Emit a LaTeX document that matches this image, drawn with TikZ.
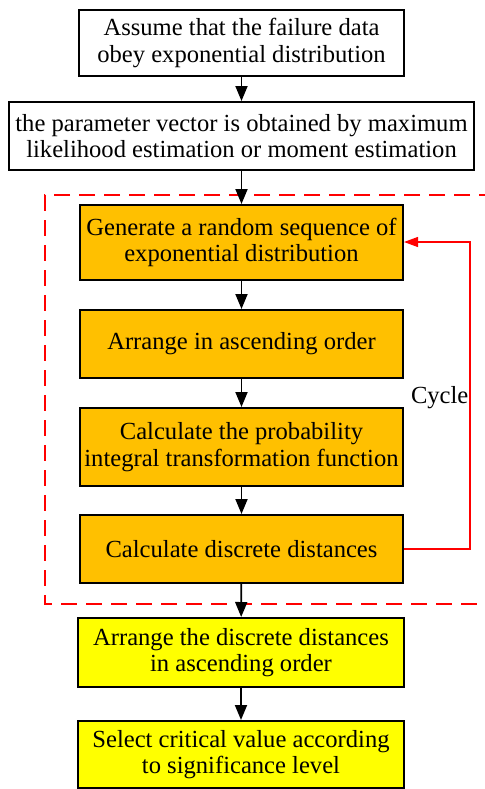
\documentclass[tikz,border=0pt]{standalone}
\usepackage{fontspec}
\setmainfont{Liberation Serif}
\usetikzlibrary{arrows.meta}

\definecolor{boxorange}{HTML}{FFC000}
\definecolor{boxyellow}{HTML}{FFFF00}

\tikzset{
  stepbox/.style={draw=black, line width=1pt, inner sep=0pt, align=center,
    font=\fontsize{12.3}{13.2}\selectfont},
  loopbox/.style={stepbox, fill=boxorange, minimum width=161.5pt},
  endbox/.style={stepbox, fill=boxyellow, minimum width=163pt},
  flow/.style={-{Triangle[length=7.5pt,width=6pt]}, line width=0.9pt},
}

\begin{document}
\begin{tikzpicture}[x=0.5pt, y=-0.5pt]
\useasboundingbox (0,0) rectangle (485,789);

\node[stepbox, minimum width=162.5pt, minimum height=33pt] (assume) at (241.5,43)
  {Assume that the failure data\\obey exponential distribution};
\node[stepbox, minimum width=232.5pt, minimum height=34pt] (param) at (241.5,136)
  {the parameter vector is obtained by maximum\\likelihood estimation or moment estimation};

  % loop part
  \draw[red, line width=1pt, dash pattern=on 8pt off 4.5pt] (495,195) -- (45,195) -- (45,604) -- (495,604);

\node[loopbox, minimum height=37.5pt] (generate) at (241.5,242.5)
  {Generate a random sequence of\\exponential distribution};
\node[loopbox, minimum height=34pt] (arrange) at (241.5,344)
  {Arrange in ascending order};
\node[loopbox, minimum height=39pt] (pit) at (241.5,447)
  {Calculate the probability\\integral transformation function};
\node[loopbox, minimum height=34pt] (dist) at (241.5,549)
  {Calculate discrete distances};

\node[endbox, minimum height=34.5pt] (sortdist) at (241,652.5)
  {Arrange the discrete distances\\in ascending order};
\node[endbox, minimum height=33.5pt] (select) at (241,754.5)
  {Select critical value according\\to significance level};

\coordinate (cyclebot) at (470,549);
\coordinate (cycletop) at (470,242);

\draw[flow] (assume) -- (param);
\draw[flow] (param) -- (generate);
\draw[flow] (generate) -- (arrange);
\draw[flow] (arrange) -- (pit);
\draw[flow] (pit) -- (dist);
\draw[flow] (dist) -- (sortdist);
\draw[flow] (sortdist) -- (select);

\draw[red, line width=0.6pt, -{Triangle[length=7pt,width=5pt]}] (dist.east) -- (cyclebot) -- node[black, left, inner sep=0.5pt, font=\fontsize{12.3}{13.2}\selectfont, pos=0.5, yshift=-1pt] {Cycle} (cycletop) -- (generate.east |- cycletop);

\end{tikzpicture}
\end{document}
